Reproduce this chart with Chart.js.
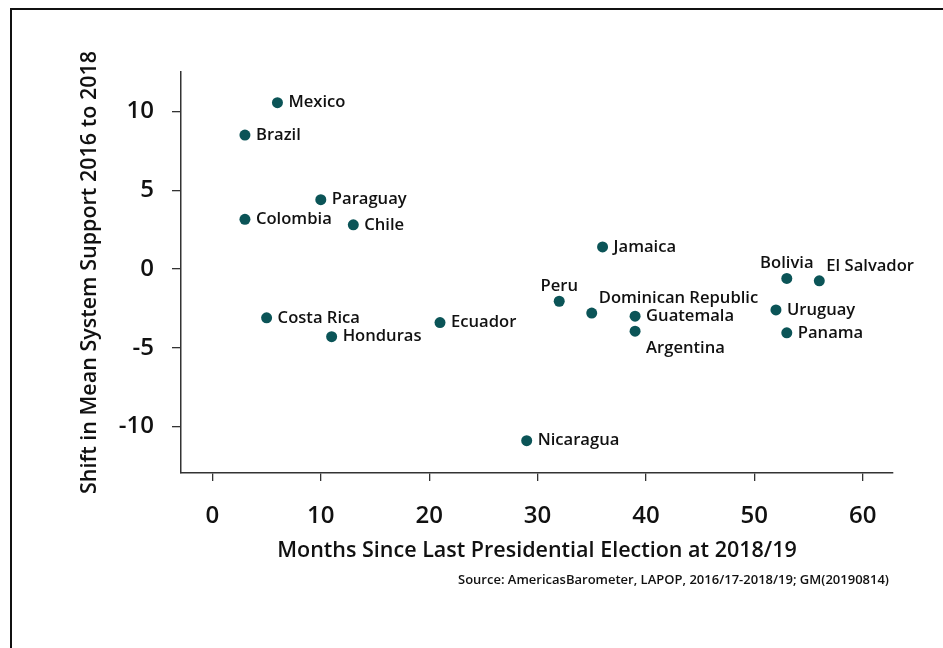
<!DOCTYPE html>
<html>
<head>
<meta charset="utf-8">
<script src="https://cdn.jsdelivr.net/npm/chart.js@4.4.1/dist/chart.umd.min.js"></script>
<style>
  body { margin: 0; background: #fff; }
  #wrap { position: relative; width: 943px; height: 648px; overflow: hidden; }
  #frame { position: absolute; left: 10px; top: 8px; width: 1000px; height: 1000px;
           border-left: 2px solid #111; border-top: 2px solid #111; }
  #source { position: absolute; right: 54px; top: 570px; font-family: "Open Sans";
            font-weight: 600; font-size: 13px; color: #111; white-space: nowrap; }
  canvas { position: absolute; left: 0; top: 0; }
</style>
</head>
<body>
<div id="wrap">
  <div id="frame"></div>
  <canvas id="scatter" width="943" height="648"></canvas>
  <div id="source">Source: AmericasBarometer, LAPOP, 2016/17-2018/19; GM(20190814)</div>
</div>
<script>
// values
const countries = ['Mexico','Brazil','Paraguay','Colombia','Chile','Jamaica','Bolivia','El Salvador','Peru',
  'Dominican Republic','Guatemala','Argentina','Uruguay','Panama','Costa Rica','Honduras','Ecuador','Nicaragua']
const months = [6, 3, 10, 3, 13, 36, 53, 56, 32, 35, 39, 39, 52, 53, 5, 11, 21, 29]
const shift = [10.55, 8.5, 4.4, 3.15, 2.8, 1.4, -0.6, -0.75, -2.05, -2.8, -3.0, -3.95, -2.6, -4.05, -3.1, -4.3, -3.4, -10.9]
const xTicks = [0, 10, 20, 30, 40, 50, 60]
const yTicks = [-10, -5, 0, 5, 10]

// where each country name sits next to its dot
const labelSpot = {
  'Bolivia': 'above', 'Peru': 'above', 'El Salvador': 'aboveRight',
  'Dominican Republic': 'aboveRight', 'Argentina': 'belowRight'
}

const teal = '#0b5457'
const ink = '#111'

const pointLabels = {
  id: 'pointLabels',
  afterDatasetsDraw(chart) {
    const ctx = chart.ctx
    const meta = chart.getDatasetMeta(0)
    ctx.save()
    ctx.font = '600 16.6px "Open Sans"'
    ctx.fillStyle = ink
    ctx.textBaseline = 'middle'
    meta.data.forEach((pt, i) => {
      const name = countries[i]
      const spot = labelSpot[name] || 'right'
      let x = pt.x + 11, y = pt.y
      ctx.textAlign = 'left'
      if(spot == 'above'){ ctx.textAlign = 'center'; x = pt.x; y = pt.y - 15 }
      if(spot == 'aboveRight'){ x = pt.x + 7; y = pt.y - 15 }
      if(spot == 'belowRight'){ y = pt.y + 17 }
      ctx.fillText(name, x, y)
    })
    ctx.restore()
  }
}

new Chart(document.getElementById('scatter'), {
  type: 'scatter',
  data: {
    datasets: [{
      data: months.map((m, i) => ({x: m, y: shift[i]})),
      backgroundColor: teal,
      borderColor: teal,
      borderWidth: 0,
      pointRadius: 5.5,
      pointHoverRadius: 5.5
    }]
  },
  options: {
    responsive: false,
    animation: false,
    layout: { padding: { top: 72, right: 50, left: 77, bottom: 84 } },
    plugins: { legend: { display: false }, tooltip: { enabled: false } },
    scales: {
      x: {
        type: 'linear',
        min: -2.9, max: 62.8,
        afterFit(scale) { scale.height = 91 },
        afterBuildTicks(scale) { scale.ticks = xTicks.map(v => ({value: v})) },
        border: { color: '#333', width: 1.5 },
        grid: { drawOnChartArea: false, tickLength: 8, color: '#333', lineWidth: 1.3 },
        ticks: { padding: 21, color: ink, font: { family: 'Open Sans', size: 24, weight: 600 } },
        title: { display: true, text: 'Months Since Last Presidential Election at 2018/19',
          color: ink, padding: 0, font: { family: 'Open Sans', size: 21.5, weight: 600 } }
      },
      y: {
        type: 'linear',
        min: -12.95, max: 12.5,
        afterFit(scale) { scale.width = 104 },
        afterBuildTicks(scale) { scale.ticks = yTicks.map(v => ({value: v})) },
        border: { color: '#333', width: 1.5 },
        grid: { drawOnChartArea: false, tickLength: 9, color: '#333', lineWidth: 1.3 },
        ticks: { padding: 18, color: ink, font: { family: 'Open Sans', size: 24, weight: 600 } },
        title: { display: true, text: 'Shift in Mean System Support 2016 to 2018',
          color: ink, padding: 0, font: { family: 'Open Sans', size: 21.5, weight: 600 } }
      }
    }
  },
  plugins: [pointLabels]
})
</script>
</body>
</html>
